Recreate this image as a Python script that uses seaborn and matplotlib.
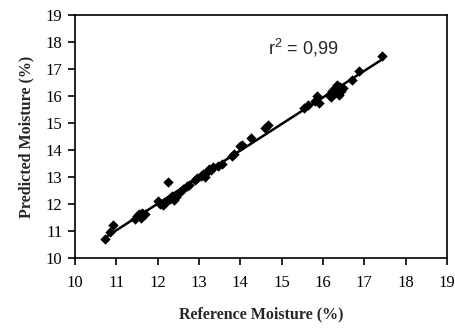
import matplotlib
matplotlib.use('Agg')
import matplotlib.pyplot as plt
import numpy as np
import pandas as pd
import seaborn as sns

# reference vs predicted moisture (%)
reference = [10.72, 10.85, 10.93, 11.45, 11.50, 11.55, 11.60, 11.62, 11.65, 11.70,
             12.00, 12.05, 12.12, 12.18, 12.26, 12.30, 12.35, 12.40, 12.45, 12.55,
             12.62, 12.70, 12.75, 12.90, 12.95, 13.05, 13.10, 13.15, 13.20, 13.25,
             13.30, 13.35, 13.45, 13.55, 13.80, 13.85, 14.00, 14.05, 14.25, 14.60,
             14.68, 15.55, 15.65, 15.80, 15.85, 15.90, 16.15, 16.20, 16.22, 16.25,
             16.30, 16.32, 16.35, 16.38, 16.40, 16.42, 16.45, 16.48, 16.70, 16.88,
             17.42]
predicted = [10.70, 10.95, 11.22, 11.45, 11.55, 11.62, 11.50, 11.68, 11.58, 11.65,
             12.10, 12.00, 11.98, 12.05, 12.80, 12.20, 12.28, 12.15, 12.25, 12.45,
             12.55, 12.68, 12.72, 12.88, 12.95, 13.05, 13.12, 13.00, 13.20, 13.30,
             13.25, 13.38, 13.40, 13.50, 13.78, 13.85, 14.15, 14.20, 14.45, 14.82,
             14.92, 15.55, 15.65, 15.80, 16.00, 15.75, 16.05, 15.95, 16.20, 16.10,
             16.30, 16.15, 16.40, 16.25, 16.05, 16.35, 16.20, 16.30, 16.60, 16.92,
             17.48]
ticks = list(range(10, 20))
r2_label = 'r$^{\\mathbf{\\scriptstyle 2}}$ = 0,99'
r2_label = 'r$^2$ = 0,99'

df = pd.DataFrame({'ref': reference, 'pred': predicted})

sns.set_style('ticks')
plt.rcParams['font.family'] = ['Liberation Serif', 'DejaVu Serif']
plt.rcParams['mathtext.fontset'] = 'custom'
plt.rcParams['mathtext.rm'] = 'Liberation Sans'

fig, ax = plt.subplots(figsize=(4.55, 3.33), dpi=100)
fig.subplots_adjust(left=0.165, right=0.982, bottom=0.225, top=0.955)

sns.regplot(data=df, x='ref', y='pred', ci=None, color='black', marker='D',
            scatter_kws={'s': 28, 'linewidths': 0, 'alpha': 1},
            line_kws={'linewidth': 1.8}, ax=ax)

ax.set_xlim(10, 19)
ax.set_ylim(10, 19)
ax.set_xticks(ticks)
ax.set_yticks(ticks)
for s in ax.spines.values():
    s.set_visible(True)
    s.set_linewidth(1.2)
    s.set_color('black')
ax.tick_params(axis='both', direction='out', length=5, width=1.2,
               labelsize=12, colors='black')
ax.tick_params(axis='x', pad=7)
ax.tick_params(axis='y', pad=4)

ax.set_xlabel('Reference Moisture (%)', fontweight='bold', fontsize=11.5, labelpad=11)
ax.set_ylabel('Predicted Moisture (%)', fontweight='bold', fontsize=11.5, labelpad=8)

ax.text(14.67, 17.55, r2_label, fontsize=13, family=['Liberation Sans', 'DejaVu Sans'])

fig.savefig('out.png', dpi=100)
